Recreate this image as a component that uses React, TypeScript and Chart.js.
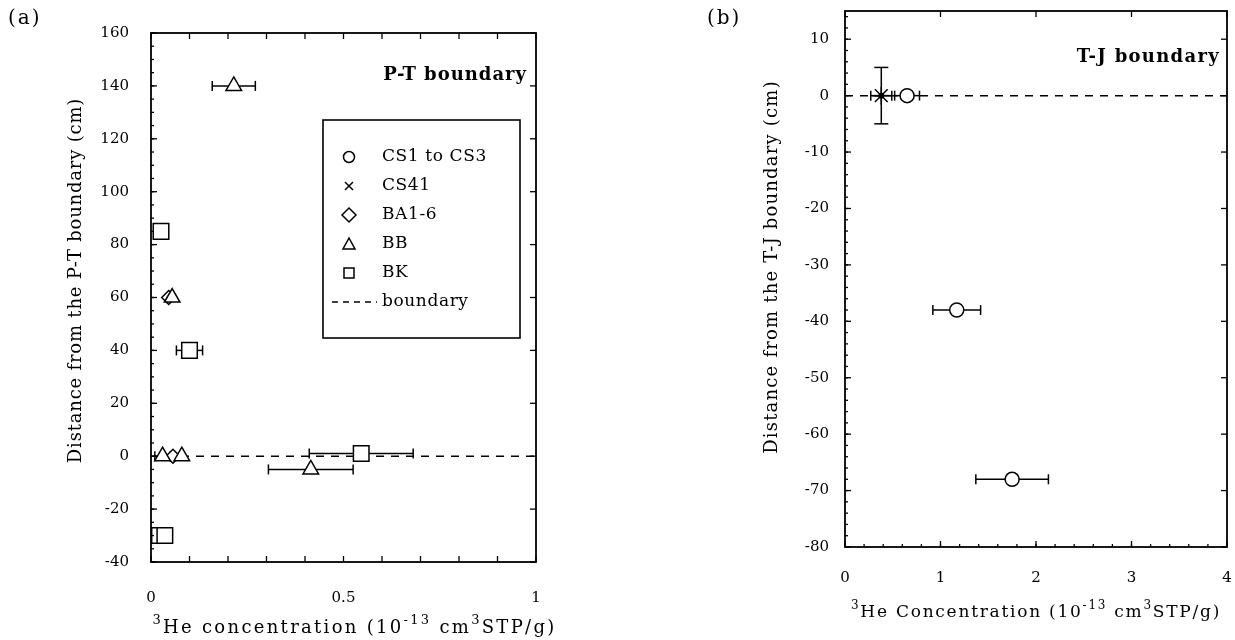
import React, { useEffect, useRef } from 'react';
import { Chart, registerables } from 'chart.js';

Chart.register(...registerables);

const FONT = "'DejaVu Serif', serif";

// ---------- Panel (a): P-T boundary ----------
const bbX = [0.215, 0.055, 0.03, 0.08, 0.415];
const bbY = [140, 60, 0, 0, -5];
const bbErr = [0.056, 0, 0.02, 0, 0.11];
const baX = [0.046, 0.057];
const baY = [60, 0];
const bkX = [0.026, 0.1, 0.546, 0.022, 0.036];
const bkY = [85, 40, 1, -30, -30];
const bkErr = [0, 0.034, 0.135, 0, 0];
const boundaryAX = [0, 1];

const xTicksA = [0, 0.5, 1];
const yTicksA = [-40, -20, 0, 20, 40, 60, 80, 100, 120, 140, 160];

// ---------- Panel (b): T-J boundary ----------
const csX = [0.65, 1.17, 1.75];
const csY = [0, -38, -68];
const csErr = [0.13, 0.25, 0.38];
const cs41X = [0.38];
const cs41Y = [0];
const cs41ErrX = [0.11];
const cs41ErrY = [5];
const boundaryBX = [0, 4];

const xTicksB = [0, 1, 2, 3, 4];
const yTicksB = [-80, -70, -60, -50, -40, -30, -20, -10, 0, 10];

const legendLabels = ['CS1 to CS3', 'CS41', 'BA1-6', 'BB', 'BK', 'boundary'];
const legendShapes = ['circle', 'cross', 'diamond', 'triangle', 'rect', 'dash'];

const xTitleA: [string, boolean][] = [['3', true], ['He concentration (10', false], ['-13', true], [' cm', false], ['3', true], ['STP/g)', false]];
const xTitleB: [string, boolean][] = [['3', true], ['He Concentration (10', false], ['-13', true], [' cm', false], ['3', true], ['STP/g)', false]];

function steps(from: number, to: number, step: number) {
  const out: number[] = [];
  for (let v = from; v <= to + 1e-9; v += step) out.push(Math.round(v * 1000) / 1000);
  return out;
}
const pts = (xs: number[], ys: number[]) => xs.map((x, i) => ({ x, y: ys[i] }));

// ---------- plugins ----------
function seg(ctx: CanvasRenderingContext2D, x1: number, y1: number, x2: number, y2: number) {
  ctx.beginPath();
  ctx.moveTo(x1, y1);
  ctx.lineTo(x2, y2);
  ctx.stroke();
}

const errorBars = {
  id: 'errorBars',
  beforeDatasetsDraw(chart: any) {
    const { ctx, scales } = chart;
    const x = scales.x, y = scales.y;
    ctx.save();
    ctx.strokeStyle = '#000';
    ctx.lineWidth = 1.5;
    chart.data.datasets.forEach((ds: any) => {
      ds.data.forEach((p: any, i: number) => {
        const px = x.getPixelForValue(p.x);
        const py = y.getPixelForValue(p.y);
        const ex = ds.errX ? ds.errX[i] : 0;
        if (ex) {
          const l = x.getPixelForValue(p.x - ex);
          const r = x.getPixelForValue(p.x + ex);
          seg(ctx, l, py, r, py);
          seg(ctx, l, py - 5, l, py + 5);
          seg(ctx, r, py - 5, r, py + 5);
        }
        const ey = ds.errY ? ds.errY[i] : 0;
        if (ey) {
          const t = y.getPixelForValue(p.y + ey);
          const b = y.getPixelForValue(p.y - ey);
          seg(ctx, px, t, px, b);
          seg(ctx, px - 7, t, px + 7, t);
          seg(ctx, px - 7, b, px + 7, b);
        }
        if (ds.centerDot) {
          ctx.beginPath();
          ctx.arc(px, py, 3, 0, Math.PI * 2);
          ctx.fillStyle = '#000';
          ctx.fill();
        }
      });
    });
    ctx.restore();
  },
};

const frame = {
  id: 'frame',
  afterDraw(chart: any, _a: any, o: any) {
    const { ctx, chartArea: a, scales } = chart;
    const x = scales.x, y = scales.y;
    ctx.save();
    ctx.strokeStyle = '#000';
    ctx.lineWidth = 1.8;
    ctx.strokeRect(a.left, a.top, a.right - a.left, a.bottom - a.top);
    ctx.lineWidth = 1.3;
    const side = (name: string, vals: number[], len: number) => {
      if (!vals) return;
      vals.forEach((v) => {
        if (name === 'left') { const p = y.getPixelForValue(v); seg(ctx, a.left, p, a.left + len, p); }
        if (name === 'right') { const p = y.getPixelForValue(v); seg(ctx, a.right, p, a.right - len, p); }
        if (name === 'bottom') { const p = x.getPixelForValue(v); seg(ctx, p, a.bottom, p, a.bottom - len); }
        if (name === 'top') { const p = x.getPixelForValue(v); seg(ctx, p, a.top, p, a.top + len); }
      });
    };
    ['left', 'right', 'bottom', 'top'].forEach((n) => {
      const s = o[n];
      if (!s) return;
      side(n, s.minor, 3);
      side(n, s.major, 6);
    });
    ctx.restore();
  },
};

function drawRich(ctx: any, segs: [string, boolean][], cx: number, cy: number, size: number, ls: number) {
  const supSize = Math.round(size * 0.72);
  let total = 0;
  const parts = segs.map(([t, sup]) => {
    ctx.font = `${sup ? supSize : size}px ${FONT}`;
    ctx.letterSpacing = `${ls}px`;
    const w = ctx.measureText(t).width;
    total += w;
    return { t, sup, w };
  });
  let x = cx - total / 2;
  ctx.textAlign = 'left';
  ctx.textBaseline = 'middle';
  parts.forEach((p) => {
    ctx.font = `${p.sup ? supSize : size}px ${FONT}`;
    ctx.letterSpacing = `${ls}px`;
    ctx.fillText(p.t, x, p.sup ? cy - size * 0.42 : cy);
    x += p.w;
  });
}

const texts = {
  id: 'texts',
  afterDraw(chart: any, _a: any, o: any) {
    const { ctx, chartArea: a } = chart;
    ctx.save();
    ctx.fillStyle = '#000';
    // y-axis title
    ctx.save();
    ctx.translate(o.yTitleX, (a.top + a.bottom) / 2 + o.yTitleDy);
    ctx.rotate(-Math.PI / 2);
    ctx.font = `18px ${FONT}`;
    (ctx as any).letterSpacing = `${o.yTitleLs}px`;
    ctx.textAlign = 'center';
    ctx.textBaseline = 'middle';
    ctx.fillText(o.yTitle, 0, 0);
    ctx.restore();
    // x-axis title
    ctx.save();
    drawRich(ctx, o.xTitle, (a.left + a.right) / 2 + o.xTitleDx, a.bottom + o.xTitleDy, o.xTitleSize, o.xTitleLs);
    ctx.restore();
    // corner label
    ctx.font = `bold 18px ${FONT}`;
    (ctx as any).letterSpacing = `${o.cornerLs}px`;
    ctx.textAlign = 'right';
    ctx.textBaseline = 'middle';
    ctx.fillText(o.corner, a.right - o.cornerDx, a.top + o.cornerDy);
    ctx.restore();
  },
};

function drawShape(ctx: CanvasRenderingContext2D, shape: string, x: number, y: number) {
  ctx.beginPath();
  if (shape === 'circle') {
    ctx.arc(x, y, 5.5, 0, Math.PI * 2);
  } else if (shape === 'cross') {
    ctx.moveTo(x - 4, y - 4); ctx.lineTo(x + 4, y + 4);
    ctx.moveTo(x + 4, y - 4); ctx.lineTo(x - 4, y + 4);
  } else if (shape === 'diamond') {
    ctx.moveTo(x, y - 7); ctx.lineTo(x + 7, y); ctx.lineTo(x, y + 7); ctx.lineTo(x - 7, y); ctx.closePath();
  } else if (shape === 'triangle') {
    ctx.moveTo(x, y - 6); ctx.lineTo(x + 6, y + 5); ctx.lineTo(x - 6, y + 5); ctx.closePath();
  } else if (shape === 'rect') {
    ctx.rect(x - 5, y - 5, 10, 10);
  } else if (shape === 'dash') {
    ctx.setLineDash([6, 5]);
    ctx.moveTo(x - 17, y); ctx.lineTo(x + 28, y);
  }
  ctx.stroke();
  ctx.setLineDash([]);
}

const legendBox = {
  id: 'legendBox',
  afterDraw(chart: any, _a: any, o: any) {
    if (!o.show) return;
    const { ctx, chartArea: a } = chart;
    const left = a.left + 172, top = a.top + 87, w = 197, h = 218;
    ctx.save();
    ctx.strokeStyle = '#000';
    ctx.fillStyle = '#000';
    ctx.lineWidth = 1.6;
    ctx.strokeRect(left, top, w, h);
    ctx.font = `17px ${FONT}`;
    (ctx as any).letterSpacing = '0.6px';
    ctx.textBaseline = 'middle';
    ctx.textAlign = 'left';
    legendLabels.forEach((lab, i) => {
      const yy = top + 37 + i * 29;
      ctx.lineWidth = 1.5;
      drawShape(ctx, legendShapes[i], left + 26, yy);
      ctx.fillText(lab, left + 59, yy);
    });
    ctx.restore();
  },
};

const pointBase = { backgroundColor: '#fff', borderColor: '#000', borderWidth: 1.5, pointBorderWidth: 1.5 };
const lineBase = {
  showLine: true, borderColor: '#000', borderWidth: 1.5, borderDash: [8, 7], pointRadius: 0,
};

function makeScales(o: any) {
  return {
    x: {
      type: 'linear', min: o.xMin, max: o.xMax,
      afterBuildTicks: (s: any) => { s.ticks = o.xTicks.map((v: number) => ({ value: v })); },
      afterFit: (s: any) => { s.height = o.xHeight; s.paddingLeft = 0; s.paddingRight = 0; },
      grid: { display: false, drawTicks: false },
      border: { display: false },
      ticks: { padding: o.xTickPad, color: '#000', font: { family: FONT, size: 15 }, callback: (v: any) => String(v) },
      title: { display: false },
    },
    y: {
      type: 'linear', min: o.yMin, max: o.yMax,
      afterBuildTicks: (s: any) => { s.ticks = o.yTicks.map((v: number) => ({ value: v })); },
      afterFit: (s: any) => { s.width = o.yWidth; s.paddingTop = 0; s.paddingBottom = 0; },
      grid: { display: false, drawTicks: false },
      border: { display: false },
      ticks: { padding: o.yTickPad, color: '#000', font: { family: FONT, size: 15 }, callback: (v: any) => String(v) },
    },
  };
}

export default function App() {
  const refA = useRef<HTMLCanvasElement>(null);
  const refB = useRef<HTMLCanvasElement>(null);

  useEffect(() => {
    const chartA = new Chart(refA.current as HTMLCanvasElement, {
      type: 'scatter',
      data: {
        datasets: [
          { label: 'BB', data: pts(bbX, bbY), errX: bbErr, pointStyle: 'triangle', pointRadius: 9, ...pointBase } as any,
          { label: 'BA1-6', data: pts(baX, baY), pointStyle: 'rectRot', pointRadius: 7, ...pointBase } as any,
          { label: 'BK', data: pts(bkX, bkY), errX: bkErr, pointStyle: 'rect', pointRadius: 11, ...pointBase } as any,
          { label: 'boundary', data: boundaryAX.map((x) => ({ x, y: 0 })), ...lineBase } as any,
        ],
      },
      options: {
        responsive: false,
        animation: false,
        events: [],
        layout: { autoPadding: false, padding: { left: 0, top: 33, right: 74, bottom: 0 } },
        plugins: {
          legend: { display: false },
          tooltip: { enabled: false },
          frame: {
            left: { major: yTicksA, minor: steps(-40, 160, 5) },
            right: { major: yTicksA },
            bottom: { major: steps(0, 1, 0.1) },
            top: { major: steps(0, 1, 0.1) },
          },
          texts: {
            yTitle: 'Distance from the P-T boundary (cm)', yTitleX: 76, yTitleDy: -17, yTitleLs: 0.8,
            xTitle: xTitleA, xTitleDx: 11, xTitleDy: 66, xTitleSize: 18, xTitleLs: 2.3,
            corner: 'P-T boundary', cornerDx: 9, cornerDy: 42, cornerLs: 1,
          },
          legendBox: { show: true },
        } as any,
        scales: makeScales({
          xMin: 0, xMax: 1, xTicks: xTicksA, xHeight: 78, xTickPad: 27,
          yMin: -40, yMax: 160, yTicks: yTicksA, yWidth: 151, yTickPad: 22,
        }) as any,
      },
      plugins: [errorBars, frame, texts, legendBox],
    });

    const chartB = new Chart(refB.current as HTMLCanvasElement, {
      type: 'scatter',
      data: {
        datasets: [
          { label: 'CS41', data: pts(cs41X, cs41Y), errX: cs41ErrX, errY: cs41ErrY, centerDot: true, pointStyle: 'star', pointRadius: 9, ...pointBase } as any,
          { label: 'CS1 to CS3', data: pts(csX, csY), errX: csErr, pointStyle: 'circle', pointRadius: 7, ...pointBase } as any,
          { label: 'boundary', data: boundaryBX.map((x) => ({ x, y: 0 })), ...lineBase } as any,
        ],
      },
      options: {
        responsive: false,
        animation: false,
        events: [],
        layout: { autoPadding: false, padding: { left: 0, top: 11, right: 8, bottom: 0 } },
        plugins: {
          legend: { display: false },
          tooltip: { enabled: false },
          frame: {
            left: { major: yTicksB, minor: steps(-80, 14, 2) },
            right: { major: yTicksB },
            bottom: { major: xTicksB, minor: steps(0, 4, 0.2) },
            top: { major: xTicksB },
          },
          texts: {
            yTitle: 'Distance from the T-J boundary (cm)', yTitleX: 162, yTitleDy: -12, yTitleLs: 1.2,
            xTitle: xTitleB, xTitleDx: 0, xTitleDy: 66, xTitleSize: 17, xTitleLs: 1.75,
            corner: 'T-J boundary', cornerDx: 7, cornerDy: 46, cornerLs: 1.3,
          },
          legendBox: { show: false },
        } as any,
        scales: makeScales({
          xMin: 0, xMax: 4, xTicks: xTicksB, xHeight: 93, xTickPad: 22,
          yMin: -80, yMax: 15, yTicks: yTicksB, yWidth: 235, yTickPad: 16,
        }) as any,
      },
      plugins: [errorBars, frame, texts, legendBox],
    });

    return () => {
      chartA.destroy();
      chartB.destroy();
    };
  }, []);

  const lab: React.CSSProperties = { position: 'absolute', top: 5, fontFamily: FONT, fontSize: 20, letterSpacing: '2px', color: '#000' };

  return (
    <div style={{ position: 'absolute', left: 0, top: 0, width: 1235, height: 640, background: '#fff' }}>
      <canvas ref={refA} width={610} height={640} style={{ position: 'absolute', left: 0, top: 0 }} />
      <canvas ref={refB} width={625} height={640} style={{ position: 'absolute', left: 610, top: 0 }} />
      <span style={{ ...lab, left: 8 }}>(a)</span>
      <span style={{ ...lab, left: 707 }}>(b)</span>
    </div>
  );
}
